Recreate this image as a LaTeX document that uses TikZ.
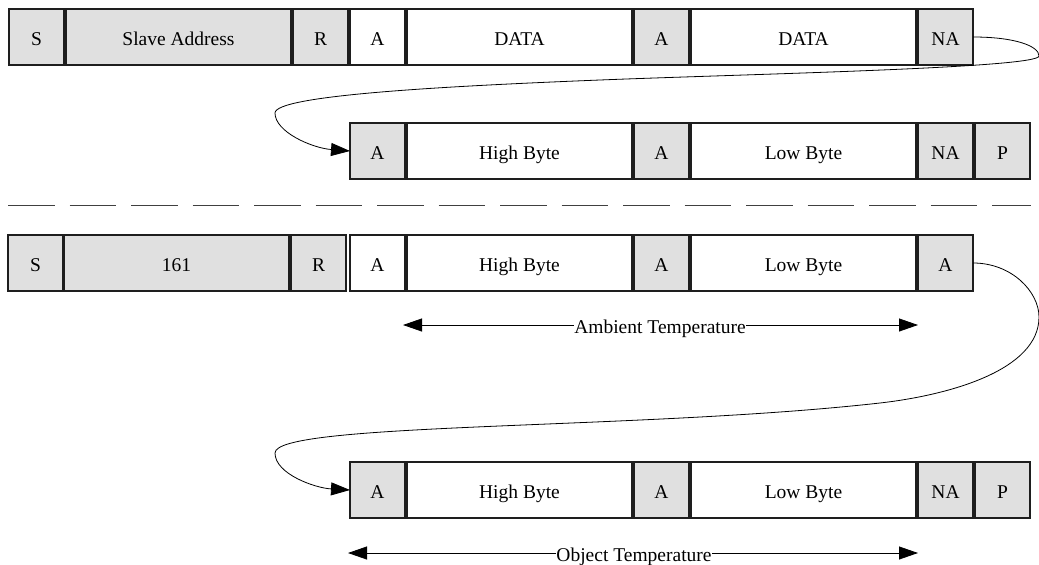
\documentclass[tikz,border=0pt]{standalone}
\usepackage{fontspec}
\setmainfont{Liberation Serif}
\usetikzlibrary{arrows.meta}
\definecolor{boxgray}{RGB}{224,224,224}
\definecolor{edge}{RGB}{30,30,30}
\begin{document}
\begin{tikzpicture}[x=1pt,y=-1pt,
  fld/.style={draw=edge, line width=1.2pt, minimum height=56pt, inner sep=0pt,
    outer sep=0pt, anchor=west, text height=17pt, text depth=1pt,
    font=\fontsize{19.5}{22}\selectfont},
  sm/.style={minimum width=55pt},
  lg/.style={minimum width=225pt},
  gr/.style={fill=boxgray},
  wh/.style={fill=white},
  link/.style={draw=black, line width=0.8pt},
  tip/.style={-{Triangle[length=19pt,width=13pt]}},
  span/.style={draw=black, line width=0.8pt},
  spanlbl/.style={fill=white, inner xsep=0.5pt, inner ysep=0pt, text height=17pt,
    text depth=1pt, font=\fontsize{19.5}{22}\selectfont},
  sep/.style={draw=black!75, line width=0.9pt, dash pattern=on 46.5pt off 15pt}]
\useasboundingbox (0,0) rectangle (1039,565);

% first transaction: address + two data bytes
\node[fld,sm,gr] (s1)  at (9,37)   {S};
\node[fld,lg,gr] (sa1) at (66,37)  {Slave Address};
\node[fld,sm,gr] (r1)  at (293,37) {R};
\node[fld,sm,wh] (a1)  at (350,37) {A};
\node[fld,lg,wh] (d1)  at (407,37) {DATA};
\node[fld,sm,gr] (b1)  at (634,37) {A};
\node[fld,lg,wh] (e1)  at (691,37) {DATA};
\node[fld,sm,gr] (na1) at (918,37) {NA};

\node[fld,sm,gr] (a2)  at (350,151) {A};
\node[fld,lg,wh] (hb2) at (407,151) {High Byte};
\node[fld,sm,gr] (b2)  at (634,151) {A};
\node[fld,lg,wh] (lb2) at (691,151) {Low Byte};
\node[fld,sm,gr] (na2) at (918,151) {NA};
\node[fld,sm,gr] (p2)  at (975,151) {P};

% separator
\coordinate (sepL) at (8,205);
\coordinate (sepR) at (1031,205);
\draw[sep] (sepL) -- (sepR);

% second transaction: address 161, ambient and object temperature
\node[fld,sm,gr] (s3)  at (8,263)   {S};
\node[fld,lg,gr] (v3)  at (64,263)  {161};
\node[fld,sm,gr] (r3)  at (291,263) {R};
\node[fld,sm,wh] (a3)  at (350,263) {A};
\node[fld,lg,wh] (hb3) at (407,263) {High Byte};
\node[fld,sm,gr] (b3)  at (634,263) {A};
\node[fld,lg,wh] (lb3) at (691,263) {Low Byte};
\node[fld,sm,gr] (c3)  at (918,263) {A};

\node[fld,sm,gr] (a4)  at (350,490) {A};
\node[fld,lg,wh] (hb4) at (407,490) {High Byte};
\node[fld,sm,gr] (b4)  at (634,490) {A};
\node[fld,lg,wh] (lb4) at (691,490) {Low Byte};
\node[fld,sm,gr] (na4) at (918,490) {NA};
\node[fld,sm,gr] (p4)  at (975,490) {P};

% wrap-around connectors
\draw[link,tip] (na1.east) .. controls (1015,37) and (1039,46) .. (1039,56)
  .. controls (1039,68) and (750,74) .. (600,80)
  .. controls (450,86) and (275,95) .. (275,113)
  .. controls (275,132) and (312,148) .. (a2.west);
\draw[link,tip] (c3.east) .. controls (1012,263) and (1039,292) .. (1039,317)
  .. controls (1039,370) and (950,395) .. (880,403)
  .. controls (640,430) and (275,422) .. (275,453)
  .. controls (275,474) and (315,488) .. (a4.west);

% temperature spans
\coordinate (ambL) at (403,325);
\coordinate (ambR) at (918,325);
\node[spanlbl] (amb) at (660,325) {Ambient Temperature};
\draw[span,tip] (amb) -- (ambL);
\draw[span,tip] (amb) -- (ambR);

\coordinate (objL) at (348,553);
\coordinate (objR) at (918,553);
\node[spanlbl] (obj) at (634,553) {Object Temperature};
\draw[span,tip] (obj) -- (objL);
\draw[span,tip] (obj) -- (objR);
\end{tikzpicture}
\end{document}
